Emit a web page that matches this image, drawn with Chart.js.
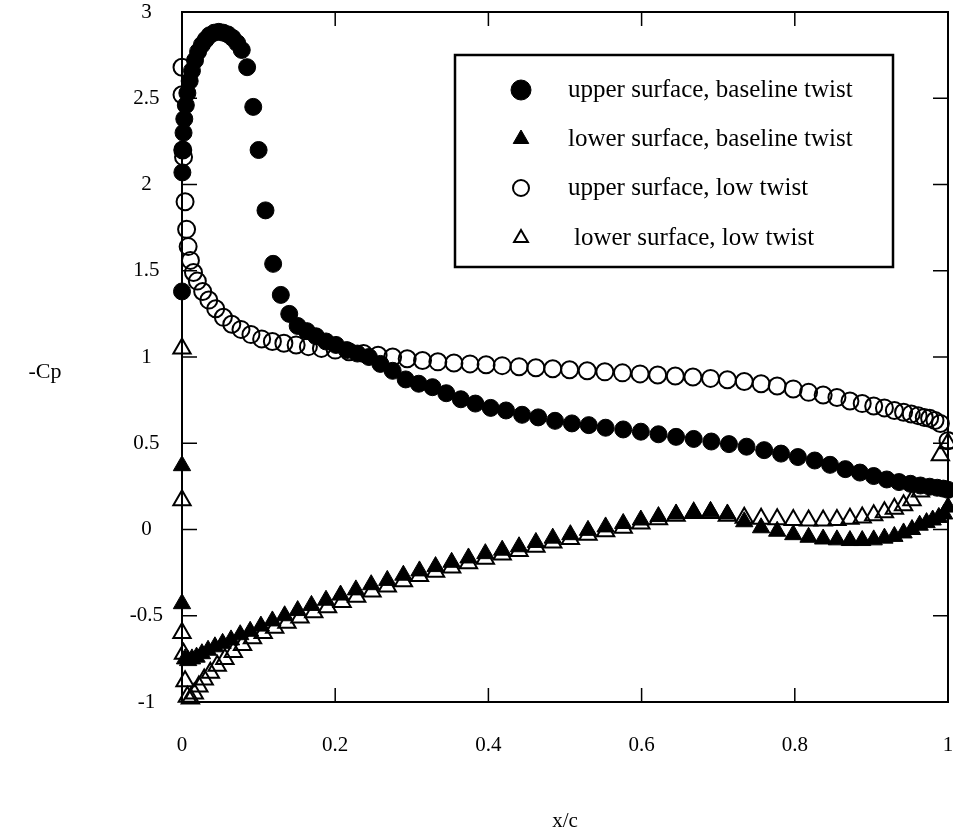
<!DOCTYPE html>
<html>
<head>
<meta charset="utf-8">
<script src="https://cdn.jsdelivr.net/npm/chart.js@4.4.1/dist/chart.umd.min.js"></script>
<style>
  body { margin: 0; background: #fff; }
</style>
</head>
<body>
<canvas id="myChart" width="953" height="838"></canvas>
<script>
// upper surface, baseline twist
var upperBaseX = [0, 0.0005, 0.001, 0.002, 0.003, 0.005, 0.007, 0.01, 0.013, 0.017, 0.021, 0.026, 0.031, 0.036, 0.042, 0.048, 0.054, 0.06, 0.066, 0.072, 0.078, 0.085, 0.093, 0.1, 0.109, 0.119, 0.129, 0.14, 0.151, 0.163, 0.175, 0.188, 0.201, 0.215, 0.229, 0.244, 0.259, 0.275, 0.292, 0.309, 0.327, 0.345, 0.364, 0.383, 0.403, 0.423, 0.444, 0.465, 0.487, 0.509, 0.531, 0.553, 0.576, 0.599, 0.622, 0.645, 0.668, 0.691, 0.714, 0.737, 0.76, 0.782, 0.804, 0.826, 0.846, 0.866, 0.885, 0.903, 0.92, 0.936, 0.951, 0.964, 0.976, 0.986, 0.994, 1.0];
var upperBaseY = [1.38, 2.07, 2.2, 2.3, 2.38, 2.46, 2.53, 2.6, 2.66, 2.72, 2.77, 2.81, 2.84, 2.865, 2.88, 2.885, 2.88, 2.87, 2.85, 2.82, 2.78, 2.68, 2.45, 2.2, 1.85, 1.54, 1.36, 1.25, 1.18, 1.15, 1.12, 1.09, 1.07, 1.04, 1.02, 1.0, 0.96, 0.92, 0.87, 0.845, 0.825, 0.79, 0.755, 0.73, 0.705, 0.69, 0.665, 0.65, 0.63, 0.615, 0.605, 0.59, 0.58, 0.567, 0.552, 0.537, 0.525, 0.51, 0.495, 0.48, 0.46, 0.44, 0.42, 0.4, 0.375, 0.35, 0.33, 0.31, 0.29, 0.275, 0.265, 0.255, 0.248, 0.242, 0.237, 0.23];

// lower surface, baseline twist
var lowerBaseX = [0, 0, 0.004, 0.008, 0.013, 0.019, 0.026, 0.034, 0.043, 0.053, 0.064, 0.076, 0.089, 0.103, 0.118, 0.134, 0.151, 0.169, 0.188, 0.207, 0.227, 0.247, 0.268, 0.289, 0.31, 0.331, 0.352, 0.374, 0.396, 0.418, 0.44, 0.462, 0.484, 0.507, 0.53, 0.553, 0.576, 0.599, 0.622, 0.645, 0.668, 0.69, 0.712, 0.734, 0.756, 0.777, 0.798, 0.818, 0.837, 0.855, 0.872, 0.888, 0.903, 0.917, 0.93, 0.942, 0.953, 0.963, 0.972, 0.98, 0.988, 0.995, 1.0];
var lowerBaseY = [0.37, -0.43, -0.75, -0.76, -0.75, -0.74, -0.72, -0.7, -0.68, -0.66, -0.64, -0.61, -0.59, -0.56, -0.53, -0.5, -0.47, -0.44, -0.41, -0.38, -0.35, -0.32, -0.295, -0.265, -0.24, -0.215, -0.19, -0.165, -0.14, -0.12, -0.1, -0.075, -0.05, -0.03, -0.005, 0.015, 0.035, 0.055, 0.075, 0.09, 0.1, 0.105, 0.09, 0.045, 0.01, -0.01, -0.03, -0.045, -0.055, -0.06, -0.064, -0.064, -0.06, -0.05, -0.04, -0.02, 0.0, 0.025, 0.04, 0.055, 0.07, 0.09, 0.13];

// upper surface, low twist
var upperLowX = [0, 0, 0.001, 0.002, 0.004, 0.006, 0.008, 0.011, 0.015, 0.02, 0.027, 0.035, 0.044, 0.054, 0.065, 0.077, 0.09, 0.104, 0.118, 0.133, 0.149, 0.165, 0.182, 0.2, 0.218, 0.237, 0.256, 0.275, 0.294, 0.314, 0.334, 0.355, 0.376, 0.397, 0.418, 0.44, 0.462, 0.484, 0.506, 0.529, 0.552, 0.575, 0.598, 0.621, 0.644, 0.667, 0.69, 0.712, 0.734, 0.756, 0.777, 0.798, 0.818, 0.837, 0.855, 0.872, 0.888, 0.903, 0.917, 0.93, 0.942, 0.952, 0.961, 0.969, 0.976, 0.983, 0.99, 1.0];
var upperLowY = [2.68, 2.52, 2.2, 2.16, 1.9, 1.74, 1.64, 1.56, 1.49, 1.44, 1.38, 1.33, 1.28, 1.23, 1.19, 1.16, 1.13, 1.105, 1.09, 1.08, 1.07, 1.06, 1.05, 1.04, 1.03, 1.02, 1.01, 1.0, 0.99, 0.98, 0.972, 0.965, 0.96, 0.955, 0.95, 0.944, 0.938, 0.932, 0.926, 0.92, 0.914, 0.908, 0.902, 0.896, 0.89, 0.884, 0.876, 0.868, 0.858, 0.845, 0.832, 0.815, 0.795, 0.78, 0.765, 0.745, 0.73, 0.716, 0.705, 0.69, 0.68, 0.67, 0.66, 0.65, 0.645, 0.632, 0.615, 0.515];

// lower surface, low twist
var lowerLowX = [0, 0, 0, 0.002, 0.004, 0.007, 0.011, 0.016, 0.022, 0.029, 0.037, 0.046, 0.056, 0.067, 0.079, 0.092, 0.106, 0.121, 0.137, 0.154, 0.172, 0.19, 0.209, 0.228, 0.248, 0.268, 0.289, 0.31, 0.331, 0.352, 0.374, 0.396, 0.418, 0.44, 0.462, 0.484, 0.507, 0.53, 0.553, 0.576, 0.599, 0.622, 0.645, 0.668, 0.69, 0.712, 0.734, 0.756, 0.777, 0.798, 0.818, 0.837, 0.855, 0.872, 0.888, 0.903, 0.917, 0.93, 0.942, 0.953, 0.964, 0.99, 1.0];
var lowerLowY = [1.05, 0.17, -0.6, -0.72, -0.88, -0.97, -0.98, -0.95, -0.91, -0.87, -0.83, -0.79, -0.75, -0.71, -0.67, -0.63, -0.6, -0.57, -0.54, -0.51, -0.48, -0.45, -0.42, -0.39, -0.36, -0.33, -0.3, -0.27, -0.245, -0.22, -0.195, -0.17, -0.145, -0.125, -0.1, -0.075, -0.055, -0.03, -0.01, 0.01, 0.035, 0.06, 0.08, 0.095, 0.095, 0.08, 0.068, 0.062, 0.06, 0.055, 0.052, 0.052, 0.055, 0.062, 0.07, 0.082, 0.1, 0.12, 0.14, 0.17, 0.22, 0.43, 0.5];

var seriesLabels = ['upper surface, baseline twist', 'lower surface, baseline twist', 'upper surface, low twist', 'lower surface, low twist'];
var xTicks = [0, 0.2, 0.4, 0.6, 0.8, 1];
var yTicks = [-1, -0.5, 0, 0.5, 1, 1.5, 2, 2.5, 3];

function pts(xs, ys) {
    return xs.map(function (x, i) { return { x: x, y: ys[i] }; });
}

var serif = "'Liberation Serif', 'DejaVu Serif', serif";

// box round the plot, inward ticks on all four sides, "-Cp" label
var framePlugin = {
    id: 'frame',
    afterDraw: function (chart) {
        var ctx = chart.ctx, a = chart.chartArea;
        var xs = chart.scales.x, ys = chart.scales.y;
        ctx.save();
        ctx.strokeStyle = '#000';
        ctx.lineWidth = 2;
        ctx.strokeRect(a.left, a.top, a.right - a.left, a.bottom - a.top);
        ctx.lineWidth = 1.5;
        ctx.beginPath();
        xTicks.slice(1, -1).forEach(function (v) {
            var px = xs.getPixelForValue(v);
            ctx.moveTo(px, a.bottom); ctx.lineTo(px, a.bottom - 14);
            ctx.moveTo(px, a.top); ctx.lineTo(px, a.top + 14);
        });
        yTicks.slice(1, -1).forEach(function (v) {
            var py = ys.getPixelForValue(v);
            ctx.moveTo(a.left, py); ctx.lineTo(a.left + 15, py);
            ctx.moveTo(a.right, py); ctx.lineTo(a.right - 15, py);
        });
        ctx.stroke();
        ctx.fillStyle = '#000';
        ctx.font = '22px ' + serif;
        ctx.textAlign = 'center';
        ctx.textBaseline = 'middle';
        ctx.fillText('-Cp', 45, 372);
        ctx.restore();
    }
};

// boxed legend inside the plot
var legendBoxPlugin = {
    id: 'legendBox',
    afterDraw: function (chart) {
        var ctx = chart.ctx;
        var rows = [90, 139, 188, 238];
        ctx.save();
        ctx.strokeStyle = '#000';
        ctx.lineWidth = 2.5;
        ctx.fillStyle = '#fff';
        ctx.fillRect(455, 55, 438, 212);
        ctx.strokeRect(455, 55, 438, 212);
        chart.data.datasets.forEach(function (ds, i) {
            ctx.lineWidth = ds.borderWidth;
            ctx.strokeStyle = ds.borderColor;
            ctx.fillStyle = ds.backgroundColor;
            Chart.helpers.drawPoint(ctx, {
                pointStyle: ds.pointStyle,
                radius: ds.legendRadius,
                borderWidth: ds.borderWidth,
                rotation: 0
            }, 521, rows[i]);
            ctx.fillStyle = '#000';
            ctx.font = '25px ' + serif;
            ctx.textAlign = 'left';
            ctx.textBaseline = 'middle';
            ctx.fillText(ds.label, i === 3 ? 574 : 568, rows[i]);
        });
        ctx.restore();
    }
};

function plainLabel(v) { return String(v); }

var ctx = document.getElementById('myChart').getContext('2d');
var chart = new Chart(ctx, {
    type: 'scatter',
    data: {
        datasets: [{
            label: seriesLabels[0],
            data: pts(upperBaseX, upperBaseY),
            pointStyle: 'circle',
            backgroundColor: '#000',
            borderColor: '#000',
            borderWidth: 1,
            pointRadius: 8.5,
            legendRadius: 10,
            clip: false
        }, {
            label: seriesLabels[1],
            data: pts(lowerBaseX, lowerBaseY),
            pointStyle: 'triangle',
            backgroundColor: '#000',
            borderColor: '#000',
            borderWidth: 1,
            pointRadius: 10,
            legendRadius: 9,
            clip: false
        }, {
            label: seriesLabels[2],
            data: pts(upperLowX, upperLowY),
            pointStyle: 'circle',
            backgroundColor: 'rgba(0,0,0,0)',
            borderColor: '#000',
            borderWidth: 2,
            pointRadius: 8.5,
            legendRadius: 8,
            clip: false
        }, {
            label: seriesLabels[3],
            data: pts(lowerLowX, lowerLowY),
            pointStyle: 'triangle',
            backgroundColor: 'rgba(0,0,0,0)',
            borderColor: '#000',
            borderWidth: 2,
            pointRadius: 10,
            legendRadius: 8,
            clip: false
        }]
    },
    options: {
        responsive: false,
        animation: false,
        layout: { autoPadding: false, padding: { left: 0, top: 12, right: 5, bottom: 0 } },
        plugins: {
            legend: { display: false },
            tooltip: { enabled: false }
        },
        scales: {
            x: {
                type: 'linear',
                min: 0,
                max: 1,
                afterBuildTicks: function (s) { s.ticks = xTicks.map(function (v) { return { value: v }; }); },
                afterFit: function (s) {
                    s.height = 136;
                    s.paddingLeft = 0;
                    s.paddingRight = 0;
                },
                grid: { display: false, drawTicks: false },
                border: { display: false },
                ticks: {
                    color: '#000',
                    padding: 31,
                    maxRotation: 0,
                    callback: plainLabel,
                    font: { family: serif, size: 21 }
                },
                title: {
                    display: true,
                    text: 'x/c',
                    color: '#000',
                    padding: { top: 0, bottom: 4 },
                    font: { family: serif, size: 21 }
                }
            },
            y: {
                type: 'linear',
                min: -1,
                max: 3,
                afterBuildTicks: function (s) { s.ticks = yTicks.map(function (v) { return { value: v }; }); },
                afterFit: function (s) {
                    s.width = 182;
                    s.paddingTop = 0;
                    s.paddingBottom = 0;
                },
                grid: { display: false, drawTicks: false },
                border: { display: false },
                ticks: {
                    color: '#000',
                    padding: 19,
                    crossAlign: 'center',
                    callback: plainLabel,
                    font: { family: serif, size: 21 }
                }
            }
        }
    },
    plugins: [framePlugin, legendBoxPlugin]
});
</script>
</body>
</html>
